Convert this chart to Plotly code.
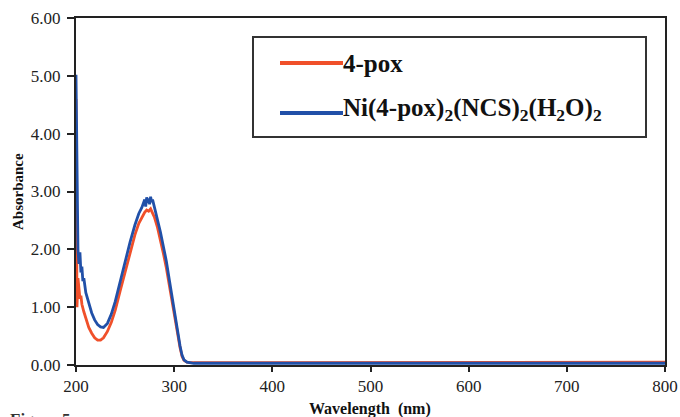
import plotly.graph_objects as go

# Wavelength (nm) sample points and absorbance values
wl_pox = [200, 200.5, 201, 202, 203, 204, 205, 206, 208, 210, 213, 216, 219, 222, 225, 228,
          232, 236, 240, 245, 250, 255, 260, 264, 267, 270, 272, 274, 276, 278, 280,
          283, 286, 289, 292, 295, 298, 300, 302, 304, 306, 308, 310, 313, 316, 320,
          330, 350, 400, 450, 500, 550, 600, 650, 700, 750, 800]
abs_pox = [4.60, 2.50, 1.00, 1.50, 1.30, 1.15, 1.20, 1.05, 0.92, 0.80, 0.65, 0.55, 0.47, 0.43, 0.43, 0.47,
           0.58, 0.74, 0.95, 1.28, 1.62, 1.95, 2.25, 2.45, 2.56, 2.64, 2.68, 2.66, 2.70, 2.62, 2.55,
           2.38, 2.18, 1.93, 1.68, 1.38, 1.05, 0.88, 0.68, 0.48, 0.30, 0.15, 0.08, 0.05, 0.04, 0.04,
           0.04, 0.04, 0.04, 0.05, 0.05, 0.05, 0.05, 0.05, 0.05, 0.05, 0.05]

wl_ni = [200, 200.5, 201, 202, 203, 204, 205, 206, 207, 208, 210, 213, 216, 219, 222, 225, 228,
         232, 236, 240, 245, 250, 255, 260, 264, 267, 269, 270, 271, 272, 273, 274, 275, 276,
         277, 278, 280, 283, 286, 289, 292, 295, 298, 300, 302, 304, 306, 308, 310, 313, 316, 320,
         330, 350, 400, 450, 500, 550, 600, 650, 700, 750, 800]
abs_ni = [5.02, 4.20, 3.00, 2.00, 1.75, 1.95, 1.60, 1.70, 1.45, 1.50, 1.25, 1.05, 0.90, 0.78, 0.70, 0.66, 0.65,
          0.72, 0.88, 1.10, 1.45, 1.80, 2.12, 2.42, 2.62, 2.72, 2.80, 2.86, 2.74, 2.90, 2.80, 2.88, 2.78, 2.91,
          2.82, 2.86, 2.72, 2.52, 2.30, 2.05, 1.80, 1.48, 1.15, 0.95, 0.74, 0.52, 0.33, 0.17, 0.09, 0.05, 0.04, 0.03,
          0.03, 0.03, 0.03, 0.03, 0.03, 0.03, 0.03, 0.03, 0.03, 0.03, 0.03]

x_ticks = [200, 300, 400, 500, 600, 700, 800]
y_ticks = [0, 1, 2, 3, 4, 5, 6]

RED = "#F0502A"
BLUE = "#2150A8"
SERIF = "Liberation Serif, Times New Roman, serif"

L, R, T, B = 76, 15, 18, 52
W, H = 680, 417
PW, PH = W - L - R, H - T - B


def px(xp):
    return (xp - L) / PW


def py(yp):
    return (H - B - yp) / PH


fig = go.Figure()
fig.add_trace(go.Scatter(x=wl_pox, y=abs_pox, mode="lines", name="4-pox",
                         line=dict(color=RED, width=2.8), showlegend=False))
fig.add_trace(go.Scatter(x=wl_ni, y=abs_ni, mode="lines", name="Ni(4-pox)2(NCS)2(H2O)2",
                         line=dict(color=BLUE, width=2.8), showlegend=False))

# Manual legend box
fig.add_shape(type="rect", xref="paper", yref="paper",
              x0=px(253), x1=px(646), y0=py(137), y1=py(37),
              line=dict(color="#333333", width=2), fillcolor="white")
for ypx, col in [(63, RED), (113, BLUE)]:
    fig.add_shape(type="line", xref="paper", yref="paper",
                  x0=px(280), x1=px(343), y0=py(ypx), y1=py(ypx),
                  line=dict(color=col, width=4))
fig.add_annotation(xref="paper", yref="paper", x=px(341), y=py(63),
                   text="<b>4-pox</b>", showarrow=False, xanchor="left", yanchor="middle",
                   font=dict(family=SERIF, size=25, color="#111111"))
fig.add_annotation(xref="paper", yref="paper", x=px(341), y=py(109),
                   text="<b>Ni(4-pox)<sub>2</sub>(NCS)<sub>2</sub>(H<sub>2</sub>O)<sub>2</sub></b>",
                   showarrow=False, xanchor="left", yanchor="middle",
                   font=dict(family=SERIF, size=25, color="#111111"))

# Axis titles placed explicitly
fig.add_annotation(xref="paper", yref="paper", x=px(18), y=py(192),
                   text="<b>Absorbance</b>", showarrow=False, textangle=-90,
                   xanchor="center", yanchor="middle",
                   font=dict(family=SERIF, size=15, color="#111111"))
fig.add_annotation(xref="paper", yref="paper", x=px(370), y=py(409),
                   text="<b>Wavelength  (nm)</b>", showarrow=False,
                   xanchor="center", yanchor="middle",
                   font=dict(family=SERIF, size=16, color="#111111"))

# Cut-off caption at bottom left
fig.add_annotation(xref="paper", yref="paper", x=px(8), y=py(408),
                   text="<b>Figure 5</b>", showarrow=False, xanchor="left", yanchor="top",
                   font=dict(family=SERIF, size=17, color="#333333"))

fig.update_layout(
    width=W, height=H,
    margin=dict(l=L, r=R, t=T, b=B),
    paper_bgcolor="white", plot_bgcolor="white",
    font=dict(family=SERIF, color="#222222"),
    xaxis=dict(range=[200, 800], tickvals=x_ticks, ticktext=[str(v) for v in x_ticks],
               showline=True, linecolor="#222222", linewidth=2, mirror=True,
               ticks="outside", ticklen=5, tickwidth=1.5, tickcolor="#222222",
               showgrid=False, zeroline=False, automargin=False,
               tickfont=dict(family=SERIF, size=17, color="#222222")),
    yaxis=dict(range=[0, 6], tickvals=y_ticks, ticktext=[f"{v:.2f}" for v in y_ticks],
               showline=True, linecolor="#222222", linewidth=2, mirror=True,
               ticks="outside", ticklen=7, tickwidth=1.5, tickcolor="#222222",
               showgrid=False, zeroline=False, automargin=False,
               ticklabelstandoff=3,
               tickfont=dict(family=SERIF, size=17, color="#222222")),
)

fig.write_html("out.html", config={"displayModeBar": False},
               post_script="document.body.style.margin='0';document.body.style.overflow='hidden';")
